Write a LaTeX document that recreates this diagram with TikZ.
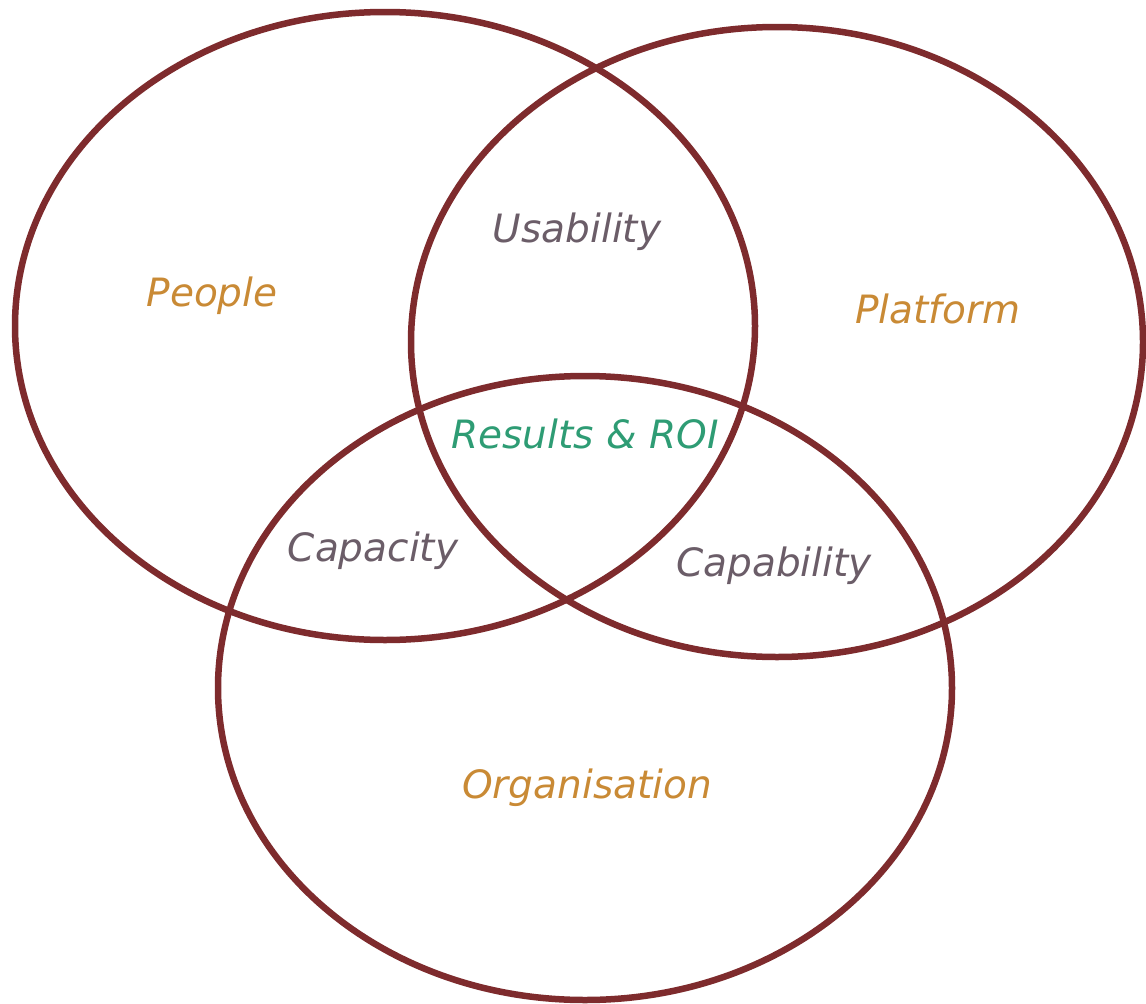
\documentclass[tikz,border=0pt]{standalone}
\usepackage{fontspec}
\setmainfont{DejaVu Sans}
\definecolor{ringred}{HTML}{7E2B2D}
\definecolor{setorange}{HTML}{C98A35}
\definecolor{overlapgrey}{HTML}{6B5D68}
\definecolor{coregreen}{HTML}{2E9C74}
\begin{document}
\begin{tikzpicture}
[x=1pt,y=-1pt,%
  ring/.style={draw=ringred,line width=6.5pt},%
  every node/.style={font=\fontsize{39}{42}\selectfont\itshape,inner sep=0pt},%
  setlabel/.style={text=setorange},%
  overlap/.style={text=overlapgrey},%
  core/.style={text=coregreen}]
\useasboundingbox (0,0) rectangle (1146,1004);
\coordinate (people) at (385,326);
\coordinate (platform) at (777,342);
\coordinate (organisation) at (585,688);
\draw[ring] (people) ellipse [x radius=370,y radius=314];
\draw[ring] (platform) ellipse [x radius=366,y radius=315];
\draw[ring] (organisation) ellipse [x radius=367,y radius=312];
\node[setlabel] (peopletext) at (212,296) {People};
\node[setlabel] (platformtext) at (938,309) {Platform};
\node[setlabel] (organisationtext) at (587,788) {Organisation};
\node[overlap] (usability) at (577,232) {Usability};
\node[overlap] (capacity) at (373,551) {Capacity};
\node[overlap] (capability) at (774,566) {Capability};
\node[core] (results) at (585,434) {Results \& ROI};
\end{tikzpicture}
\end{document}
